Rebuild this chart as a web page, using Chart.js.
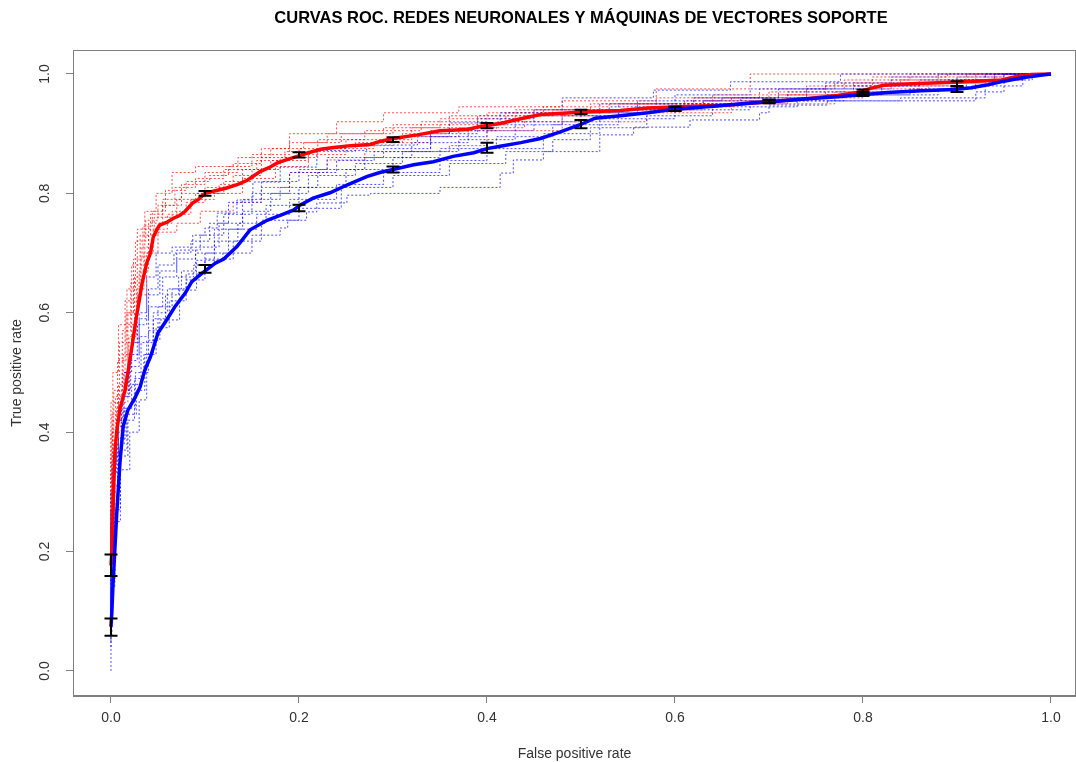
<!DOCTYPE html>
<html><head><meta charset="utf-8">
<script src="https://cdn.jsdelivr.net/npm/chart.js@4/dist/chart.umd.min.js"></script>
<style>html,body{margin:0;padding:0;background:#fff;}canvas{display:block;}</style>
</head><body>
<canvas id="c" width="1076" height="762"></canvas>
<script>
const chartTitle = "CURVAS ROC. REDES NEURONALES Y MÁQUINAS DE VECTORES SOPORTE";
const xAxisLabel = "False positive rate";
const yAxisLabel = "True positive rate";
const axisTicks = [0, 0.2, 0.4, 0.6, 0.8, 1.0];

// Mean ROC curve, neural networks (red)
const redFpr = [0,0.001,0.002,0.003,0.004,0.006,0.0096,0.015,0.020,0.022,0.027,0.030,0.033,0.038,0.042,0.045,0.049,0.052,0.060,0.066,0.073,0.079,0.087,0.093,0.100,0.110,0.123,0.135,0.145,0.159,0.168,0.177,0.188,0.198,0.210,0.223,0.237,0.255,0.276,0.286,0.300,0.326,0.350,0.379,0.393,0.414,0.436,0.457,0.499,0.542,0.571,0.606,0.659,0.702,0.737,0.773,0.794,0.808,0.822,0.858,0.897,0.947,0.961,0.979,1.0];
const redTpr = [0.177,0.20,0.26,0.31,0.36,0.40,0.44,0.47,0.52,0.54,0.593,0.62,0.649,0.683,0.70,0.727,0.74,0.747,0.752,0.758,0.763,0.770,0.784,0.790,0.800,0.804,0.809,0.815,0.822,0.837,0.843,0.851,0.857,0.862,0.868,0.874,0.877,0.880,0.882,0.887,0.892,0.898,0.905,0.907,0.912,0.917,0.925,0.932,0.936,0.939,0.943,0.945,0.948,0.954,0.958,0.964,0.969,0.976,0.981,0.984,0.986,0.990,0.995,0.999,1.0];

// Mean ROC curve, support vector machines (blue)
const blueFpr = [0,0.001,0.002,0.004,0.006,0.008,0.0096,0.013,0.018,0.026,0.031,0.036,0.042,0.050,0.058,0.068,0.079,0.086,0.100,0.111,0.120,0.134,0.148,0.166,0.180,0.194,0.201,0.215,0.233,0.251,0.272,0.286,0.300,0.322,0.343,0.364,0.386,0.400,0.414,0.436,0.457,0.478,0.499,0.515,0.542,0.571,0.599,0.641,0.677,0.705,0.737,0.773,0.805,0.826,0.862,0.897,0.915,0.933,0.950,0.971,0.989,1.0];
const blueTpr = [0.074,0.10,0.14,0.20,0.26,0.31,0.35,0.41,0.437,0.459,0.476,0.504,0.526,0.566,0.585,0.610,0.633,0.652,0.670,0.683,0.690,0.711,0.739,0.755,0.763,0.772,0.780,0.792,0.801,0.814,0.828,0.835,0.840,0.848,0.853,0.862,0.868,0.875,0.879,0.885,0.892,0.903,0.915,0.926,0.930,0.935,0.941,0.946,0.951,0.954,0.958,0.962,0.966,0.969,0.972,0.974,0.977,0.982,0.988,0.994,0.998,1.0];

// Error bars at fixed false positive rates
const errFpr = [0,0.1,0.2,0.3,0.4,0.5,0.6,0.7,0.8,0.9];
const redErrLow  = [0.159,0.796,0.860,0.886,0.909,0.933,0.938,0.952,0.966,0.980];
const redErrHigh = [0.195,0.804,0.869,0.894,0.918,0.940,0.945,0.957,0.974,0.988];
const blueErrLow  = [0.059,0.667,0.770,0.835,0.868,0.909,0.938,0.951,0.963,0.970];
const blueErrHigh = [0.088,0.680,0.781,0.845,0.885,0.923,0.945,0.957,0.970,0.979];

// Individual fold curves (step ROC), [fpr, tpr] jump points
const redFolds = [
 [[0,0.28],[0.002,0.45],[0.008,0.50],[0.015,0.58],[0.022,0.62],[0.028,0.68],[0.036,0.74],[0.048,0.77],[0.065,0.80],[0.09,0.835],[0.13,0.845],[0.16,0.85],[0.19,0.875],[0.24,0.90],[0.29,0.92],[0.37,0.935],[0.48,0.945],[0.58,0.955],[0.68,0.975],[0.80,1.0],[1,1]],
 [[0,0.15],[0.003,0.22],[0.008,0.36],[0.018,0.45],[0.028,0.55],[0.038,0.63],[0.05,0.70],[0.07,0.735],[0.095,0.75],[0.13,0.77],[0.16,0.785],[0.19,0.81],[0.23,0.835],[0.27,0.856],[0.36,0.87],[0.40,0.88],[0.48,0.905],[0.57,0.92],[0.66,0.935],[0.77,0.95],[0.86,0.97],[0.94,0.985],[1,1]],
 [[0,0.20],[0.002,0.33],[0.008,0.42],[0.015,0.48],[0.025,0.58],[0.032,0.66],[0.04,0.71],[0.055,0.75],[0.075,0.78],[0.10,0.80],[0.13,0.81],[0.16,0.83],[0.20,0.86],[0.25,0.875],[0.32,0.89],[0.39,0.91],[0.47,0.93],[0.56,0.94],[0.66,0.95],[0.76,0.96],[0.83,0.98],[0.92,0.99],[0.98,1.0],[1,1]],
 [[0,0.18],[0.003,0.28],[0.006,0.38],[0.012,0.44],[0.018,0.50],[0.028,0.60],[0.036,0.68],[0.046,0.74],[0.07,0.76],[0.09,0.79],[0.115,0.80],[0.14,0.815],[0.17,0.84],[0.21,0.855],[0.26,0.87],[0.31,0.885],[0.36,0.90],[0.42,0.915],[0.50,0.935],[0.60,0.94],[0.72,0.95],[0.79,0.965],[0.88,0.985],[0.95,0.995],[1,1]],
 [[0,0.16],[0.002,0.24],[0.005,0.40],[0.013,0.46],[0.022,0.53],[0.03,0.62],[0.04,0.67],[0.05,0.73],[0.065,0.75],[0.08,0.77],[0.10,0.785],[0.12,0.80],[0.15,0.82],[0.18,0.84],[0.22,0.86],[0.28,0.875],[0.34,0.885],[0.41,0.905],[0.48,0.92],[0.55,0.93],[0.63,0.94],[0.73,0.955],[0.80,0.96],[0.87,0.975],[0.93,0.985],[0.99,1.0],[1,1]],
 [[0,0.19],[0.001,0.30],[0.007,0.43],[0.016,0.52],[0.024,0.60],[0.034,0.69],[0.044,0.745],[0.058,0.77],[0.08,0.805],[0.105,0.82],[0.125,0.83],[0.15,0.845],[0.19,0.865],[0.23,0.885],[0.29,0.90],[0.35,0.91],[0.43,0.925],[0.51,0.94],[0.58,0.95],[0.69,0.96],[0.77,0.975],[0.84,0.985],[0.91,0.99],[0.96,1.0],[1,1]],
 [[0,0.22],[0.002,0.36],[0.009,0.45],[0.017,0.55],[0.026,0.64],[0.037,0.72],[0.05,0.755],[0.068,0.78],[0.09,0.81],[0.12,0.825],[0.155,0.84],[0.185,0.855],[0.22,0.87],[0.27,0.89],[0.33,0.905],[0.40,0.92],[0.46,0.935],[0.53,0.945],[0.62,0.95],[0.70,0.96],[0.78,0.97],[0.85,0.99],[0.93,1.0],[1,1]],
 [[0,0.17],[0.004,0.27],[0.011,0.39],[0.019,0.47],[0.027,0.56],[0.035,0.64],[0.045,0.70],[0.06,0.74],[0.085,0.765],[0.11,0.79],[0.14,0.80],[0.175,0.825],[0.21,0.845],[0.25,0.865],[0.30,0.88],[0.37,0.895],[0.44,0.91],[0.52,0.93],[0.61,0.94],[0.71,0.955],[0.82,0.965],[0.90,0.98],[0.97,0.99],[1,1]],
 [[0,0.24],[0.003,0.40],[0.012,0.47],[0.021,0.57],[0.031,0.65],[0.042,0.73],[0.055,0.765],[0.075,0.79],[0.10,0.815],[0.135,0.835],[0.17,0.86],[0.205,0.875],[0.245,0.885],[0.30,0.90],[0.36,0.915],[0.45,0.93],[0.54,0.94],[0.64,0.95],[0.74,0.965],[0.81,0.98],[0.89,0.995],[0.95,1.0],[1,1]]
];
const blueFolds = [
 [[0,0.10],[0.003,0.30],[0.008,0.36],[0.014,0.42],[0.022,0.50],[0.03,0.55],[0.038,0.60],[0.048,0.66],[0.065,0.70],[0.087,0.71],[0.10,0.73],[0.113,0.742],[0.134,0.767],[0.151,0.789],[0.18,0.819],[0.219,0.844],[0.272,0.872],[0.326,0.881],[0.36,0.895],[0.414,0.918],[0.48,0.935],[0.577,0.96],[0.659,0.973],[0.776,0.987],[0.874,1.0],[1,1]],
 [[0,0.0],[0.001,0.06],[0.004,0.15],[0.010,0.25],[0.02,0.337],[0.03,0.40],[0.038,0.454],[0.052,0.554],[0.073,0.588],[0.091,0.638],[0.119,0.688],[0.15,0.70],[0.18,0.73],[0.188,0.742],[0.208,0.755],[0.219,0.769],[0.251,0.784],[0.276,0.797],[0.35,0.80],[0.414,0.81],[0.428,0.834],[0.46,0.856],[0.52,0.87],[0.556,0.898],[0.616,0.911],[0.69,0.923],[0.70,0.935],[0.762,0.948],[0.92,0.955],[0.95,0.97],[0.98,0.99],[1,1]],
 [[0,0.06],[0.003,0.18],[0.007,0.28],[0.014,0.38],[0.022,0.44],[0.032,0.48],[0.045,0.55],[0.06,0.60],[0.075,0.64],[0.09,0.67],[0.11,0.70],[0.14,0.74],[0.17,0.77],[0.21,0.80],[0.26,0.83],[0.31,0.85],[0.37,0.87],[0.43,0.89],[0.50,0.92],[0.58,0.935],[0.67,0.95],[0.76,0.96],[0.85,0.965],[0.91,0.975],[0.95,0.99],[1,1]],
 [[0,0.08],[0.002,0.22],[0.006,0.33],[0.012,0.42],[0.02,0.46],[0.03,0.51],[0.04,0.56],[0.055,0.61],[0.07,0.66],[0.09,0.69],[0.115,0.71],[0.14,0.75],[0.18,0.79],[0.22,0.81],[0.27,0.84],[0.32,0.86],[0.38,0.885],[0.45,0.905],[0.53,0.93],[0.63,0.945],[0.72,0.955],[0.82,0.97],[0.89,0.98],[0.94,0.99],[1,1]],
 [[0,0.05],[0.003,0.16],[0.008,0.30],[0.016,0.39],[0.026,0.44],[0.04,0.50],[0.05,0.57],[0.065,0.61],[0.08,0.64],[0.10,0.665],[0.125,0.70],[0.155,0.74],[0.19,0.765],[0.24,0.79],[0.29,0.815],[0.35,0.835],[0.40,0.855],[0.46,0.875],[0.52,0.90],[0.60,0.925],[0.68,0.94],[0.78,0.955],[0.88,0.965],[0.92,0.975],[0.97,0.99],[1,1]],
 [[0,0.09],[0.002,0.25],[0.005,0.34],[0.011,0.40],[0.019,0.46],[0.028,0.52],[0.038,0.58],[0.052,0.63],[0.07,0.67],[0.095,0.705],[0.12,0.73],[0.15,0.765],[0.19,0.80],[0.24,0.835],[0.28,0.855],[0.34,0.87],[0.40,0.895],[0.48,0.915],[0.56,0.935],[0.65,0.955],[0.74,0.96],[0.83,0.975],[0.90,0.985],[0.95,0.995],[1,1]],
 [[0,0.07],[0.002,0.20],[0.009,0.31],[0.017,0.37],[0.027,0.43],[0.036,0.47],[0.048,0.53],[0.062,0.575],[0.08,0.62],[0.10,0.655],[0.13,0.69],[0.16,0.72],[0.20,0.755],[0.245,0.775],[0.30,0.81],[0.36,0.83],[0.42,0.85],[0.47,0.87],[0.51,0.89],[0.57,0.91],[0.64,0.93],[0.73,0.945],[0.84,0.955],[0.93,0.96],[0.97,0.98],[1,1]],
 [[0,0.04],[0.004,0.14],[0.01,0.27],[0.018,0.36],[0.025,0.42],[0.035,0.49],[0.045,0.53],[0.058,0.59],[0.072,0.63],[0.088,0.66],[0.11,0.68],[0.135,0.72],[0.165,0.75],[0.20,0.78],[0.25,0.81],[0.30,0.84],[0.35,0.86],[0.41,0.875],[0.47,0.895],[0.54,0.915],[0.62,0.94],[0.71,0.96],[0.79,0.975],[0.86,0.98],[0.93,0.99],[1,1]],
 [[0,0.09],[0.001,0.27],[0.006,0.35],[0.013,0.41],[0.021,0.47],[0.03,0.53],[0.04,0.59],[0.05,0.64],[0.067,0.68],[0.085,0.70],[0.105,0.72],[0.125,0.75],[0.16,0.785],[0.20,0.82],[0.23,0.84],[0.29,0.86],[0.34,0.875],[0.39,0.90],[0.45,0.925],[0.52,0.94],[0.60,0.95],[0.68,0.965],[0.76,0.975],[0.83,0.985],[0.88,0.995],[0.94,1.0],[1,1]]
];

const FONT = "'Liberation Sans', Arial, Helvetica, sans-serif";
const toXY = (xs, ys) => xs.map((x, i) => ({x: x, y: ys[i]}));

const datasets = [
  {data: toXY(blueFpr, blueTpr), borderColor: '#0000ff', borderWidth: 3.5, order: 0},
  {data: toXY(redFpr, redTpr), borderColor: '#ff0000', borderWidth: 3.5, order: 1}
];
redFolds.forEach(f => datasets.push({data: f.map(p => ({x: p[0], y: p[1]})), borderColor: 'rgba(255,0,0,0.7)', borderWidth: 1, borderDash: [2, 2], stepped: 'after', order: 3}));
blueFolds.forEach(f => datasets.push({data: f.map(p => ({x: p[0], y: p[1]})), borderColor: 'rgba(0,0,255,0.7)', borderWidth: 1, borderDash: [2, 2], stepped: 'after', order: 2}));
datasets.forEach(d => { d.pointRadius = 0; d.fill = false; d.tension = 0; });

const extras = {
  id: 'extras',
  afterDatasetsDraw(chart) {
    const {ctx, chartArea: a, scales: {x, y}} = chart;
    ctx.save();
    ctx.strokeStyle = '#000';
    ctx.lineWidth = 2;
    const bars = (lo, hi) => errFpr.forEach((v, i) => {
      const px = Math.round(x.getPixelForValue(v));
      const p1 = y.getPixelForValue(lo[i]), p2 = y.getPixelForValue(hi[i]);
      ctx.beginPath();
      ctx.moveTo(px, p1); ctx.lineTo(px, p2);
      ctx.moveTo(px - 6.5, p1); ctx.lineTo(px + 6.5, p1);
      ctx.moveTo(px - 6.5, p2); ctx.lineTo(px + 6.5, p2);
      ctx.stroke();
    });
    bars(redErrLow, redErrHigh);
    bars(blueErrLow, blueErrHigh);
    ctx.strokeStyle = '#7f7f7f';
    ctx.lineWidth = 1;
    ctx.strokeRect(a.left + 0.5, a.top + 0.5, a.right - a.left - 1, a.bottom - a.top - 1);
    ctx.restore();
  },
  afterDraw(chart) {
    const {ctx, scales: {x}} = chart;
    ctx.save();
    ctx.fillStyle = '#000';
    ctx.font = "bold 16.5px " + FONT;
    ctx.textAlign = 'center';
    ctx.textBaseline = 'middle';
    ctx.fillText(chartTitle, (x.getPixelForValue(0) + x.getPixelForValue(1)) / 2, 18);
    ctx.restore();
  }
};

new Chart(document.getElementById('c'), {
  type: 'line',
  data: {datasets: datasets},
  options: {
    responsive: false,
    devicePixelRatio: 1,
    animation: false,
    layout: {padding: {left: 0, right: 0, top: 50, bottom: 0}},
    plugins: {
      legend: {display: false},
      tooltip: {enabled: false},
      title: {display: false}
    },
    scales: {
      x: {
        type: 'linear', min: -0.0404, max: 1.0266,
        afterBuildTicks: s => { s.ticks = axisTicks.map(v => ({value: v})); },
        afterFit: s => { s.height = 66; },
        grid: {display: true, drawOnChartArea: false, drawTicks: true, tickLength: 7, color: '#7f7f7f'},
        border: {display: true, color: '#7f7f7f'},
        ticks: {callback: v => Number(v).toFixed(1), color: '#333', font: {family: FONT, size: 14}, padding: 7, maxRotation: 0, autoSkip: false},
        title: {display: true, text: xAxisLabel, color: '#333', font: {family: FONT, size: 14}, padding: {top: 0, bottom: -1}}
      },
      y: {
        type: 'linear', min: -0.042, max: 1.0402,
        afterBuildTicks: s => { s.ticks = axisTicks.map(v => ({value: v})); },
        afterFit: s => { s.width = 73; },
        grid: {display: true, drawOnChartArea: false, drawTicks: true, tickLength: 7, color: '#7f7f7f'},
        border: {display: true, color: '#7f7f7f'},
        ticks: {callback: v => Number(v).toFixed(1), color: '#333', font: {family: FONT, size: 14}, padding: 11, minRotation: 90, maxRotation: 90, crossAlign: 'center', autoSkip: false},
        title: {display: true, text: yAxisLabel, color: '#333', font: {family: FONT, size: 14}, padding: {top: 9, bottom: 0}}
      }
    }
  },
  plugins: [extras]
});
</script>
</body></html>
